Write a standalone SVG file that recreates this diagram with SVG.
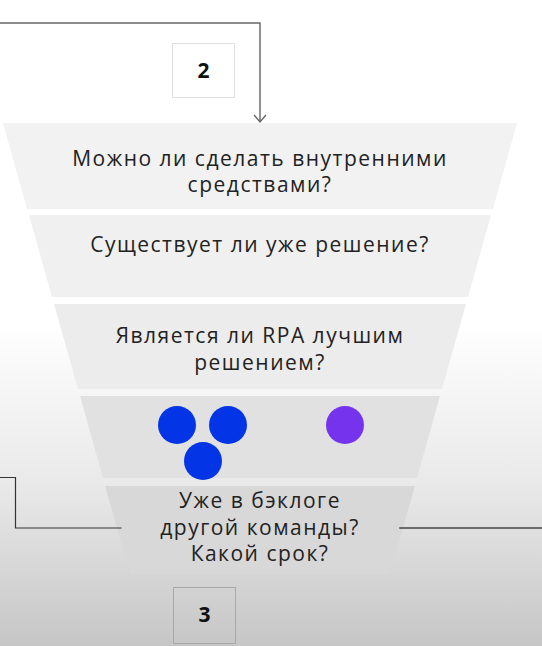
<svg xmlns="http://www.w3.org/2000/svg" width="542" height="646" viewBox="0 0 542 646">
<defs>
<linearGradient id="bg" x1="0" y1="0" x2="0" y2="1">
<stop offset="0" stop-color="#ffffff"/>
<stop offset="0.5" stop-color="#ffffff"/>
<stop offset="0.75" stop-color="#e9e9e9"/>
<stop offset="1" stop-color="#c6c6c6"/>
</linearGradient>
<style>
.t{font-family:"Open Sans","Noto Sans","DejaVu Sans",sans-serif;font-size:21px;letter-spacing:1.5px;fill:#222;text-anchor:middle}
.n{font-family:"Open Sans","Noto Sans",sans-serif;font-size:21px;font-weight:bold;fill:#111;text-anchor:middle}
.c{fill:none;stroke-linecap:square}
</style>
</defs>
<rect x="0" y="0" width="542" height="646" fill="url(#bg)"/>
<g id="layer1">
<polygon points="3,123 517,123 493,209 27,209" fill="#f2f2f2"/>
<text class="t" x="260" y="166">Можно ли сделать внутренними</text>
<text class="t" x="260" y="192">средствами?</text>
</g>
<g id="layer2">
<polygon points="29,215 491,215 468,297 52,297" fill="#f0f0f0"/>
<text class="t" x="260" y="252">Существует ли уже решение?</text>
</g>
<g id="layer3">
<polygon points="54,304 466,304 442,389 78,389" fill="#ececec"/>
<text class="t" x="260" y="343">Является ли RPA лучшим</text>
<text class="t" x="260" y="370">решением?</text>
</g>
<g id="layer4">
<polygon points="80,396 440,396 417,478 103,478" fill="#e1e1e1"/>
<circle cx="177" cy="425" r="19" fill="#0335e6"/>
<circle cx="228" cy="425" r="19" fill="#0335e6"/>
<circle cx="203" cy="461" r="19" fill="#0335e6"/>
<circle cx="345" cy="425" r="19" fill="#7633ee"/>
</g>
<g id="layer5">
<polygon points="105,486 415,486 390,574 130,574" fill="#d8d8d8"/>
<text class="t" x="260" y="508">Уже в бэклоге</text>
<text class="t" x="260" y="535">другой команды?</text>
<text class="t" x="260" y="561">Какой срок?</text>
</g>
<g id="box2">
<rect x="172.5" y="43.5" width="62" height="54" fill="#ffffff" stroke="#e0e0e0"/>
<text class="n" x="203.5" y="78">2</text>
</g>
<g id="box3">
<rect x="173.5" y="587.5" width="62" height="56" fill="none" stroke="#a8a8a8"/>
<text class="n" x="204.5" y="622">3</text>
</g>
<g id="connectors">
<polyline class="c" points="0,23 260,23 260,121" stroke="#666" stroke-width="1.4"/>
<polyline class="c" points="254.5,115.5 260,122 265.5,115.5" stroke="#666" stroke-width="1.4" stroke-linejoin="miter"/>
<polyline class="c" points="0,477.5 15.5,477.5 15.5,528 121,528" stroke="#333" stroke-width="1.2"/>
<line class="c" x1="400" y1="528" x2="542" y2="528" stroke="#444" stroke-width="1.5"/>
</g>
</svg>
